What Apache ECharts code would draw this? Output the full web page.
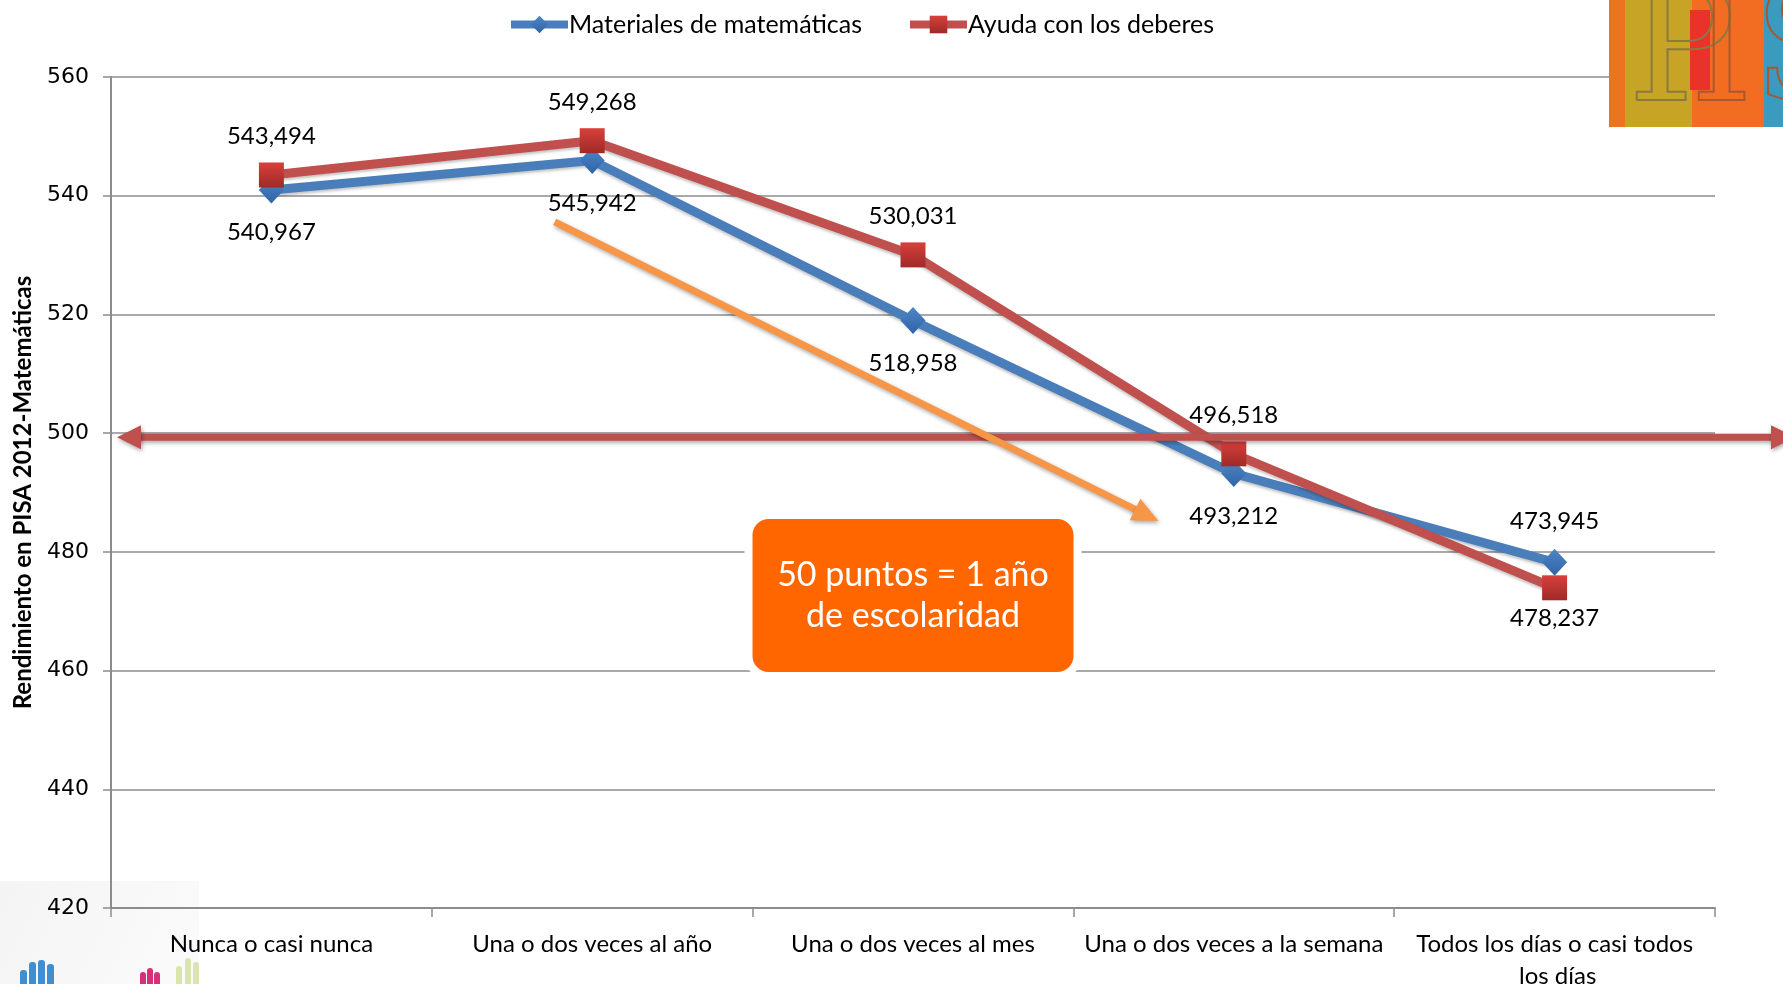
<!DOCTYPE html>
<html><head><meta charset="utf-8">
<script src="https://cdn.jsdelivr.net/npm/echarts@6/dist/echarts.min.js"></script>
<style>html,body{margin:0;padding:0;background:#fff}#c{width:1783px;height:984px}</style>
</head><body><div id="c"></div>
<script>
const categories = ['Nunca o casi nunca','Una o dos veces al año','Una o dos veces al mes','Una o dos veces a la semana','Todos los días o casi todos los días'];
const materiales = [540.967, 545.942, 518.958, 493.212, 478.237];
const ayuda = [543.494, 549.268, 530.031, 496.518, 473.945];
const materialesLabels = ['540,967','545,942','518,958','493,212','473,945'];
const ayudaLabels = ['543,494','549,268','530,031','496,518','478,237'];
const yMin = 420, yMax = 560, yStep = 20;
const refValue = 500;
const boxText = ['50 puntos = 1 año', 'de escolaridad'];

const FONT = 'Lato';
const chart = echarts.init(document.getElementById('c'), null, {renderer:'canvas'});
const gridColor = '#8c8c8c';

function lblData(vals, above) {
  return vals.map((v,i)=>{
    const last = i === vals.length-1;
    const up = last ? !above : above;
    let dist = up ? 14 : 17;
    if (last) dist = up ? 16 : 6;
    return {value:v, label:{position: up?'top':'bottom', distance: dist}};
  });
}

const option = {
  animation:false,
  legend:{
    top:7, left:502, itemWidth:57, itemHeight:22, itemGap:44,
    lineStyle:{width:8},
    textStyle:{fontFamily:FONT, fontSize:25, color:'#000', padding:[0,0,0,-4]},
    data:['Materiales de matemáticas','Ayuda con los deberes']
  },
  grid:{left:111, right:68, top:77, bottom:76, outerBoundsMode:'none', containLabel:false},
  xAxis:{
    type:'category', data:categories, boundaryGap:true,
    axisLine:{lineStyle:{color:gridColor, width:2}},
    axisTick:{show:true, length:9, lineStyle:{color:gridColor, width:1.5}},
    axisLabel:{fontFamily:FONT, fontSize:24, color:'#000', margin:20, lineHeight:32, width:304, overflow:'break', interval:0}
  },
  yAxis:{
    type:'value', min:yMin, max:yMax, interval:yStep,
    name:'Rendimiento en PISA 2012-Matemáticas', nameLocation:'middle', nameRotate:90, nameGap:76,
    nameTextStyle:{fontFamily:FONT, fontWeight:'bold', fontSize:24, color:'#000'},
    axisLine:{show:true, lineStyle:{color:gridColor, width:2}},
    axisTick:{show:true, length:8, lineStyle:{color:gridColor, width:1.5}},
    axisLabel:{fontFamily:'DejaVu Sans', fontSize:22, color:'#000', margin:22},
    splitLine:{lineStyle:{color:gridColor, width:1.5}}
  },
  series:[
    {
      name:'Materiales de matemáticas', type:'line', data:lblData(materiales, false),
      symbol:'diamond', symbolSize:[25,27], z:3,
      lineStyle:{color:'#4a7ebb', width:9, shadowBlur:3, shadowColor:'rgba(0,0,0,0.25)', shadowOffsetY:2},
      itemStyle:{color:new echarts.graphic.LinearGradient(0,0,0,1,[{offset:0,color:'#4f86c6'},{offset:1,color:'#2f64a8'}])},
      label:{show:true, fontFamily:FONT, fontSize:24, color:'#000', formatter:p=>materialesLabels[p.dataIndex]}
    },
    {
      name:'Ayuda con los deberes', type:'line', data:lblData(ayuda, true),
      symbol:'rect', symbolSize:25, z:4,
      lineStyle:{color:'#c0504d', width:9, shadowBlur:3, shadowColor:'rgba(0,0,0,0.25)', shadowOffsetY:2},
      itemStyle:{color:new echarts.graphic.LinearGradient(0,0,0,1,[{offset:0,color:'#d8403c'},{offset:1,color:'#9e2a27'}])},
      label:{show:true, fontFamily:FONT, fontSize:24, color:'#000', formatter:p=>ayudaLabels[p.dataIndex]}
    }
  ]
};
chart.setOption(option);

function px(idx, val){
  const a = chart.convertToPixel({seriesIndex:0}, [0, val]);
  const b = chart.convertToPixel({seriesIndex:0}, [1, val]);
  return [a[0] + (b[0]-a[0])*idx, a[1]];
}
function arrowHead(tip, ang, len, wid){
  const bx = tip[0]-Math.cos(ang)*len, by = tip[1]-Math.sin(ang)*len;
  const nx = -Math.sin(ang)*wid/2, ny = Math.cos(ang)*wid/2;
  return [[tip[0],tip[1]],[bx+nx,by+ny],[bx-nx,by-ny]];
}
const W = chart.getWidth();
const yRef = px(0, refValue)[1] + 4;
const redL = [117, yRef], redR = [W+12, yRef];
const oS = px(0.883, 535.6), oE = px(2.765, 485.2);
const oAng = Math.atan2(oE[1]-oS[1], oE[0]-oS[0]);
const oLineEnd = [oE[0]-Math.cos(oAng)*16, oE[1]-Math.sin(oAng)*16];
const bc = px(2, 486.2), bb = px(2, 459.1);
const boxW = 329;
const shadow = {shadowBlur:4, shadowColor:'rgba(0,0,0,0.35)', shadowOffsetY:2, shadowOffsetX:1};

chart.setOption({graphic:[
  {type:'rect', z:-10, shape:{x:0,y:881,width:199,height:103}, style:{fill:new echarts.graphic.LinearGradient(0,0,1,1,[{offset:0,color:'#f4f4f4'},{offset:1,color:'#fbfbfb'}])}},
  {type:'group', z:1, children:[
    {type:'rect', shape:{x:20,y:970,width:7,height:20,r:3}, style:{fill:'#3f8fd0'}},
    {type:'rect', shape:{x:29,y:962,width:7,height:28,r:3}, style:{fill:'#3f8fd0'}},
    {type:'rect', shape:{x:38,y:960,width:7,height:30,r:3}, style:{fill:'#3f8fd0'}},
    {type:'rect', shape:{x:47,y:964,width:7,height:26,r:3}, style:{fill:'#3f8fd0'}},
    {type:'rect', shape:{x:140,y:972,width:6,height:18,r:3}, style:{fill:'#d6307a'}},
    {type:'rect', shape:{x:147,y:968,width:6,height:22,r:3}, style:{fill:'#d6307a'}},
    {type:'rect', shape:{x:154,y:972,width:6,height:18,r:3}, style:{fill:'#d6307a'}},
    {type:'rect', shape:{x:176,y:966,width:6,height:24,r:3}, style:{fill:'#d9e4b0'}},
    {type:'rect', shape:{x:185,y:958,width:6,height:32,r:3}, style:{fill:'#d9e4b0'}},
    {type:'rect', shape:{x:193,y:962,width:6,height:28,r:3}, style:{fill:'#d9e4b0'}}
  ]},
  {type:'group', z:10, children:[
    {type:'rect', shape:{x:1609,y:0,width:174,height:127}, style:{fill:'#ea7420'}},
    {type:'rect', shape:{x:1625,y:0,width:67,height:127}, style:{fill:'#c7a326'}},
    {type:'rect', shape:{x:1692,y:0,width:72,height:127}, style:{fill:'#f26c22'}},
    {type:'rect', shape:{x:1764,y:0,width:19,height:127}, style:{fill:'#3a9bbf'}},
    {type:'rect', shape:{x:1690,y:10,width:20,height:80}, style:{fill:'#e8322a'}},
    {type:'text', style:{x:1628,y:-22,text:'P',font:'160px "DejaVu Serif"',fill:'rgba(0,0,0,0)',stroke:'#8a7a40',lineWidth:2}},
    {type:'text', style:{x:1690,y:-22,text:'IS',font:'160px "DejaVu Serif"',fill:'rgba(0,0,0,0)',stroke:'#a8582e',lineWidth:2}}
  ]},
  {type:'line', z:20, shape:{x1:redL[0]+18,y1:redL[1],x2:redR[0]-20,y2:redR[1]}, style:Object.assign({stroke:'#c0504d', lineWidth:7}, shadow)},
  {type:'polygon', z:20, shape:{points:arrowHead(redL, Math.PI, 24, 24)}, style:Object.assign({fill:'#c0504d'}, shadow)},
  {type:'polygon', z:20, shape:{points:arrowHead(redR, 0, 24, 24)}, style:Object.assign({fill:'#c0504d'}, shadow)},
  {type:'line', z:20, shape:{x1:oS[0],y1:oS[1],x2:oLineEnd[0],y2:oLineEnd[1]}, style:Object.assign({stroke:'#f79646', lineWidth:7}, shadow)},
  {type:'polygon', z:20, shape:{points:arrowHead(oE, oAng, 26, 24)}, style:Object.assign({fill:'#f79646'}, shadow)},
  {type:'rect', z:30, shape:{x:bc[0]-boxW/2, y:bc[1], width:boxW, height:bb[1]-bc[1], r:20}, style:{fill:'#ff6600', stroke:'#ffffff', lineWidth:8}},
  {type:'text', z:31, style:{x:bc[0], y:(bc[1]+bb[1])/2, text:boxText.join('\n'), align:'center', verticalAlign:'middle', font:'34px Lato', fill:'#fff', lineHeight:41}}
]});
</script></body></html>
